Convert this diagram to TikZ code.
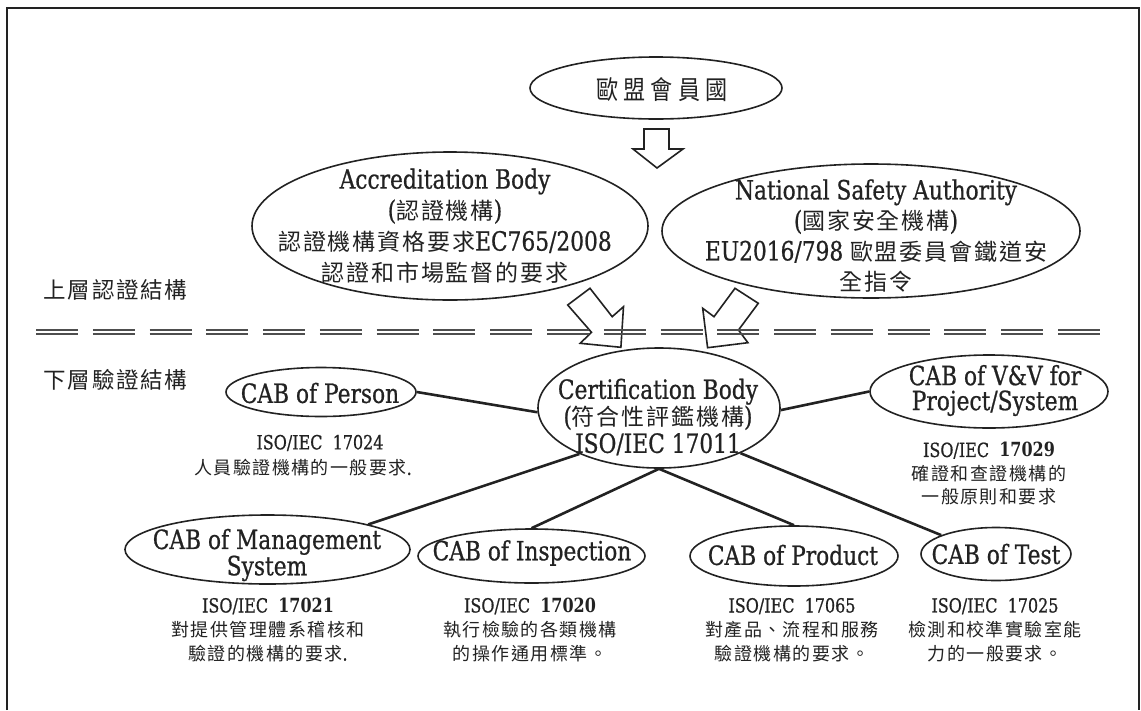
\documentclass[tikz,border=0pt]{standalone}
\usepackage{fontspec}
\setmainfont[FakeStretch=0.82,UprightFeatures={FakeBold=0.7}]{DejaVu Serif}
\newfontfamily\cjk[LetterSpace=8]{Noto Sans CJK TC}
\newfontfamily\cjkhead[FakeStretch=0.85,LetterSpace=20]{Noto Sans CJK TC}
\usetikzlibrary{shapes.geometric}
\definecolor{ink}{HTML}{222222}
% CJK run at a given size, keeping the surrounding line spacing
\newcommand\cj[2][23]{{\cjk\fontsize{#1}{\the\baselineskip}\selectfont#2}}
\newcommand\cs[1]{\cj[18]{#1}}
\begin{document}
\begin{tikzpicture}[x=1pt,y=-1pt,
  ell/.style={draw=ink, line width=1.6pt, ellipse, inner sep=0pt},
  conn/.style={draw=ink, line width=2.6pt},
  blockarrow/.style={draw=ink, line width=1.6pt, fill=white, line join=miter},
  dl/.style={draw=ink!80, line width=1.8pt, dash pattern=on 42pt off 14.78pt},
  big/.style={text=ink, align=center, inner sep=0pt},
  iso/.style={text=ink, align=center, inner sep=0pt, font=\fontsize{19.5}{24}\selectfont},
  tier/.style={text=ink, inner sep=0pt, font=\cjk\fontsize{22.5}{26}\selectfont}]
\useasboundingbox (0,0) rectangle (1141,710);

% outer frame
\draw[line width=1.6pt, ink] (7,710) -- (7,8) -- (1139,8) -- (1139,710);

% upper tier
\node[ell, minimum width=252, minimum height=62] (eu) at (656,88) {};
\node[big, font=\cjkhead\fontsize{26}{30}\selectfont] (eut) at (662,90) {歐盟會員國};

\node[ell, minimum width=396, minimum height=148] (ab) at (450,226) {};
\node[big, font=\fontsize{26.5}{31}\selectfont] (abt) at (445,226)
  {Accreditation Body\\(\cj{認證機構})\\\cj{認證機構資格要求}EC765/2008\\\cj{認證和市場監督的要求}};

\node[ell, minimum width=418, minimum height=134] (nsa) at (871,231) {};
\node[big, font=\fontsize{26.5}{30.5}\selectfont] (nsat) at (876,236)
  {National Safety Authority\\(\cj{國家安全機構})\\EU2016/798 \cj{歐盟委員會鐵道安}\\\cj{全指令}};

% hollow block arrows
\draw[blockarrow] (644,129) -- (669,129) -- (669,149) -- (683,149) -- (657,168)
  -- (633,149) -- (644,149) -- cycle;
\draw[blockarrow] (567.7,305) -- (590,288.3) -- (612.2,316.7) -- (623.5,306.7)
  -- (620.9,347.3) -- (580.2,343.3) -- (591.5,332.3) -- cycle;
\draw[blockarrow] (735,288.3) -- (758.3,303.3) -- (738.5,330) -- (747.9,342.7)
  -- (707.6,347.7) -- (702.7,308.3) -- (714,316.7) -- cycle;

% tier labels and separator
\node[tier] (upper) at (115.5,290) {上層認證結構};
\node[tier] (lower) at (115.5,380) {下層驗證結構};
\draw[dl] (36,330) -- (1100,330);
\draw[dl] (36,334) -- (1100,334);

% lower tier bodies
\node[ell, minimum width=242, minimum height=120] (cb) at (659,408) {};
\node[ell, minimum width=190, minimum height=49] (person) at (321,392) {};
\node[ell, minimum width=238, minimum height=73] (vv) at (989,391.5) {};
\node[ell, minimum width=285, minimum height=69] (mgmt) at (267.5,549.5) {};
\node[ell, minimum width=227, minimum height=54] (insp) at (531.5,556) {};
\node[ell, minimum width=208, minimum height=60] (prod) at (794,556) {};
\node[ell, minimum width=150, minimum height=53] (test) at (996,554) {};

\draw[conn] (person.east) -- (cb.182);
\draw[conn] (cb.-1) -- (vv.west);
\draw[conn] (cb.210) -- (mgmt.14);
\draw[conn] (cb.south) -- (insp.north);
\draw[conn] (cb.south) -- (prod.north);
\draw[conn] (cb.331) -- (test.161);

\node[big, font=\fontsize{26.5}{27}\selectfont] (cbt) at (658,417)
  {Certification Body\\(\cj{符合性評鑑機構})\\ISO/IEC 17011};
\node[big, font=\fontsize{26.5}{27}\selectfont] (persont) at (320,393) {CAB of Person};
\node[big, font=\fontsize{26.5}{25}\selectfont] (vvt) at (995,390.5) {CAB of V\&V for\\Project/System};
\node[big, font=\fontsize{26.5}{26.3}\selectfont] (mgmtt) at (267,555) {CAB of Management\\System};
\node[big, font=\fontsize{26.5}{27}\selectfont] (inspt) at (532,553) {CAB of Inspection};
\node[big, font=\fontsize{26.5}{27}\selectfont] (prodt) at (793,555) {CAB of Product};
\node[big, font=\fontsize{26.5}{27}\selectfont] (testt) at (996,554) {CAB of Test};

% standards under each body
\node[iso] (p1) at (320,443) {ISO/IEC\ \ 17024};
\node[iso] (p2) at (303,468) {\cs{人員驗證機構的一般要求}.};
\node[iso, font=\fontsize{19.5}{23.5}\selectfont] (vvs) at (989,474)
  {ISO/IEC\ \ \textbf{17029}\\\cs{確證和查證機構的}\\\cs{一般原則和要求}};
\node[iso] (mgmts) at (268,630)
  {ISO/IEC\ \ \textbf{17021}\\\cs{對提供管理體系稽核和}\\\cs{驗證的機構的要求}.};
\node[iso] (insps) at (530,630)
  {ISO/IEC\ \ \textbf{17020}\\\cs{執行檢驗的各類機構}\\\cs{的操作通用標準。}};
\node[iso] (prods) at (792,630)
  {ISO/IEC\ \ 17065\\\cs{對產品、流程和服務}\\\cs{驗證機構的要求。}};
\node[iso] (tests) at (995,630)
  {ISO/IEC\ \ 17025\\\cs{檢測和校準實驗室能}\\\cs{力的一般要求。}};
\end{tikzpicture}
\end{document}
